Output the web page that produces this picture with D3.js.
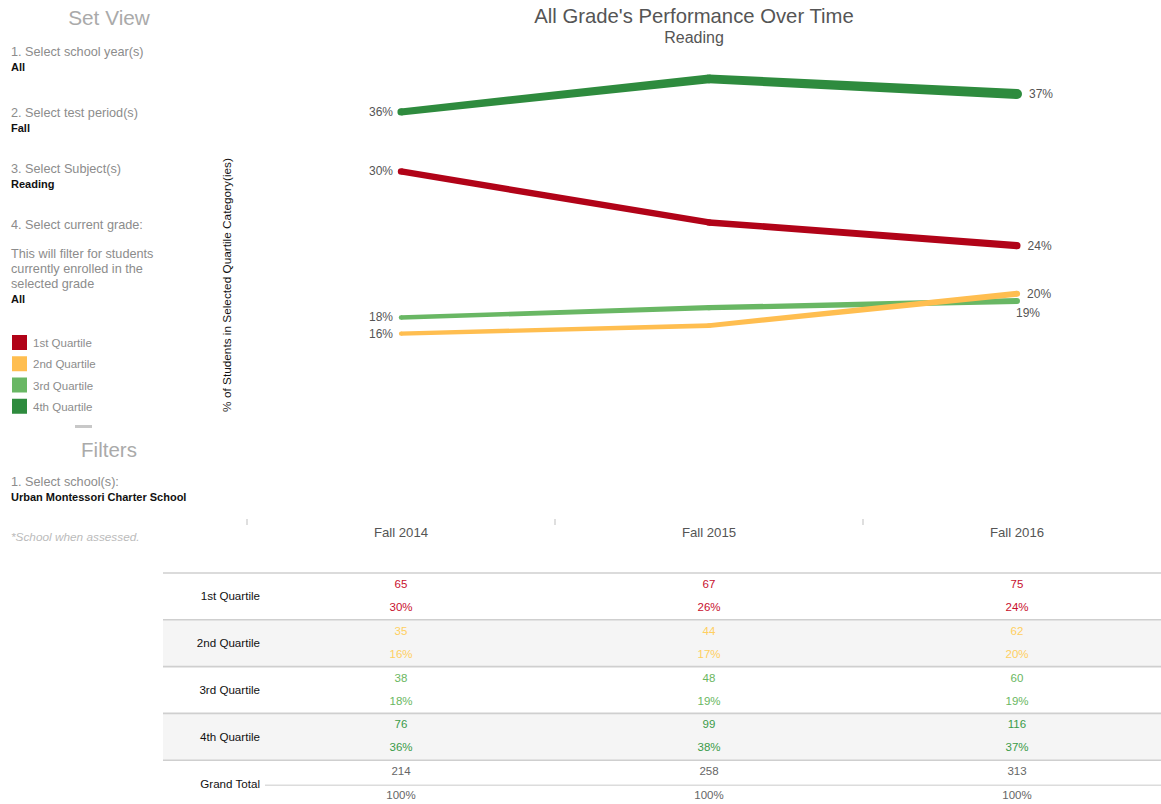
<!DOCTYPE html>
<html><head><meta charset="utf-8">
<script src="https://cdn.jsdelivr.net/npm/d3@7"></script>
<style>
body{margin:0;background:#fff;font-family:"Liberation Sans",Arial,sans-serif;}
svg{display:block}
</style></head>
<body>
<svg id="c" width="1161" height="804"></svg>
<script>
// ---- data ----
const periods = ["Fall 2014", "Fall 2015", "Fall 2016"];
const quartiles = ["1st Quartile", "2nd Quartile", "3rd Quartile", "4th Quartile"];
const q1Counts = [65, 67, 75];
const q2Counts = [35, 44, 62];
const q3Counts = [38, 48, 60];
const q4Counts = [76, 99, 116];
const totals = [214, 258, 313];
const lineColors = ["#b10318", "#ffbe50", "#69b764", "#2e8b3e"];
const tableColors = ["#c8102e", "#ffcf60", "#6ab761", "#3a9b48"];

const counts = [q1Counts, q2Counts, q3Counts, q4Counts];
const series = quartiles.map((q, i) => ({
  name: q, color: lineColors[i], tcolor: tableColors[i],
  values: periods.map((p, j) => ({period: p, count: counts[i][j], pct: counts[i][j] / totals[j]}))
}));

const svg = d3.select("#c");
const FONT = '"Liberation Sans",Arial,sans-serif';

// ---- left panel ----
const lp = svg.append("g");
function txt(x, y, s, size, color, opts = {}) {
  return lp.append("text").attr("x", x).attr("y", y).text(s)
    .attr("font-size", size).attr("fill", color)
    .attr("font-weight", opts.bold ? "bold" : "normal")
    .attr("font-style", opts.italic ? "italic" : "normal")
    .attr("text-anchor", opts.anchor || "start")
    .attr("font-family", FONT);
}
const G = "#8c8c8c", GS = 12.7;
txt(109, 25, "Set View", 20.8, "#aaaaaa", {anchor: "middle"});
txt(11, 56, "1. Select school year(s)", GS, G);
txt(11, 71, "All", 11, "#111", {bold: true});
txt(11, 117, "2. Select test period(s)", GS, G);
txt(11, 132, "Fall", 11, "#111", {bold: true});
txt(11, 173, "3. Select Subject(s)", GS, G);
txt(11, 188, "Reading", 11, "#111", {bold: true});
txt(11, 229, "4. Select current grade:", GS, G);
txt(11, 258, "This will filter for students", GS, G);
txt(11, 273, "currently enrolled in the", GS, G);
txt(11, 288, "selected grade", GS, G);
txt(11, 303, "All", 11, "#111", {bold: true});

const legY = d3.scaleBand().domain(quartiles).range([335, 420]).paddingInner(0);
quartiles.forEach((q, i) => {
  lp.append("rect").attr("x", 12).attr("y", legY(q)).attr("width", 15).attr("height", 15).attr("fill", lineColors[i]);
  txt(33, legY(q) + 12, q, 11.5, G);
});
lp.append("rect").attr("x", 75).attr("y", 425).attr("width", 17).attr("height", 3).attr("fill", "#c8c8c8");
txt(109, 457, "Filters", 20.5, "#aaaaaa", {anchor: "middle"});
txt(11, 486, "1. Select school(s):", GS, G);
txt(11, 501, "Urban Montessori Charter School", 11, "#111", {bold: true});
txt(11, 541, "*School when assessed.", 11.8, "#bbbbbb", {italic: true});

// ---- title ----
svg.append("text").attr("x", 694).attr("y", 23).attr("text-anchor", "middle")
  .attr("font-size", 20.3).attr("fill", "#555").attr("font-family", FONT).text("All Grade's Performance Over Time");
svg.append("text").attr("x", 694).attr("y", 43).attr("text-anchor", "middle")
  .attr("font-size", 16).attr("fill", "#555").attr("font-family", FONT).text("Reading");

// ---- scales ----
const x = d3.scaleBand().domain(periods).range([247, 1171]);
const xc = p => x(p) + x.bandwidth() / 2;
const y = d3.scaleLinear().domain([0, 0.4]).range([523, 60]);
const minC = d3.min(counts.flat()), maxC = d3.max(counts.flat());
const w = d3.scaleLinear().domain([minC, maxC]).range([4.2, 10]);

// y axis title
svg.append("text").attr("transform", `translate(231,285) rotate(-90)`)
  .attr("text-anchor", "middle").attr("font-size", 11.8).attr("fill", "#111")
  .attr("font-family", FONT).text("% of Students in Selected Quartile Category(ies)");

// x axis (band boundary ticks + labels)
const xAxis = d3.axisBottom(x).tickSize(0).tickPadding(0);
const gx = svg.append("g").attr("transform", "translate(0,537)").call(xAxis);
gx.select(".domain").remove();
gx.selectAll("text").attr("font-size", 13.2).attr("fill", "#555").attr("font-family", FONT).attr("dy", 0);
svg.append("g").selectAll("line").data(periods).join("line")
  .attr("x1", d => x(d)).attr("x2", d => x(d)).attr("y1", 519).attr("y2", 525)
  .attr("stroke", "#d4d4d4").attr("stroke-width", 1.5);

// ---- lines (variable width, sized by count) ----
const lg = svg.append("g");
const drawOrder = [2, 1, 0, 3];
drawOrder.forEach(si => {
  const s = series[si];
  const pts = s.values.map(v => ({x: xc(v.period), y: y(v.pct), r: w(v.count) / 2}));
  const g = lg.append("g").attr("fill", s.color);
  for (let k = 0; k < pts.length - 1; k++) {
    const a = pts[k], b = pts[k + 1];
    const dx = b.x - a.x, dy = b.y - a.y, L = Math.hypot(dx, dy);
    const nx = -dy / L, ny = dx / L;
    const poly = [[a.x + nx * a.r, a.y + ny * a.r], [b.x + nx * b.r, b.y + ny * b.r],
                  [b.x - nx * b.r, b.y - ny * b.r], [a.x - nx * a.r, a.y - ny * a.r]];
    g.append("path").attr("d", d3.line()(poly) + "Z");
  }
  pts.forEach(p => g.append("circle").attr("cx", p.x).attr("cy", p.y).attr("r", p.r));
});

// ---- point labels ----
const fmt = d3.format(".0%");
const labG = svg.append("g").attr("font-size", 12).attr("fill", "#555").attr("font-family", FONT);
series.forEach((s, si) => {
  const first = s.values[0], last = s.values[s.values.length - 1];
  labG.append("text").attr("x", xc(first.period) - 8).attr("y", y(first.pct) + 4)
    .attr("text-anchor", "end").text(fmt(first.pct));
  if (si === 2) {
    labG.append("text").attr("x", xc(last.period) - 1).attr("y", y(last.pct) + 16)
      .attr("text-anchor", "start").text(fmt(last.pct));
  } else {
    labG.append("text").attr("x", xc(last.period) + 7 + w(last.count) / 2).attr("y", y(last.pct) + 4)
      .attr("text-anchor", "start").text(fmt(last.pct));
  }
});

// ---- table ----
const tTop = 573, rowH = 46.8;
const rows = quartiles.concat(["Grand Total"]);
const ry = d3.scaleBand().domain(rows).range([tTop, tTop + rowH * 5]);
const tg = svg.append("g").attr("font-family", FONT);
rows.forEach((r, i) => {
  if (i % 2 === 1) tg.append("rect").attr("x", 163).attr("y", ry(r)).attr("width", 998).attr("height", ry.bandwidth()).attr("fill", "#f5f5f5");
});
rows.forEach((r, i) => {
  tg.append("line").attr("x1", 163).attr("x2", 1161).attr("y1", ry(r)).attr("y2", ry(r))
    .attr("stroke", "#cfcfcf").attr("stroke-width", 1.6);
  tg.append("text").attr("x", 260).attr("y", ry(r) + ry.bandwidth() / 2 + 4)
    .attr("text-anchor", "end").attr("font-size", 11.6).attr("fill", "#111").text(r);
});
tg.append("line").attr("x1", 265).attr("x2", 1161).attr("y1", ry("Grand Total") + 25).attr("y2", ry("Grand Total") + 25)
  .attr("stroke", "#dcdcdc").attr("stroke-width", 1.4);
series.forEach((s, si) => {
  s.values.forEach(v => {
    tg.append("text").attr("x", xc(v.period)).attr("y", ry(s.name) + 15).attr("text-anchor", "middle")
      .attr("font-size", 11.5).attr("fill", s.tcolor).text(v.count);
    tg.append("text").attr("x", xc(v.period)).attr("y", ry(s.name) + 38).attr("text-anchor", "middle")
      .attr("font-size", 11.5).attr("fill", s.tcolor).text(fmt(v.pct));
  });
});
periods.forEach((p, j) => {
  tg.append("text").attr("x", xc(p)).attr("y", ry("Grand Total") + 15).attr("text-anchor", "middle")
    .attr("font-size", 11.5).attr("fill", "#666").text(totals[j]);
  tg.append("text").attr("x", xc(p)).attr("y", ry("Grand Total") + 39).attr("text-anchor", "middle")
    .attr("font-size", 11.5).attr("fill", "#666").text("100%");
});
</script>
</body></html>
